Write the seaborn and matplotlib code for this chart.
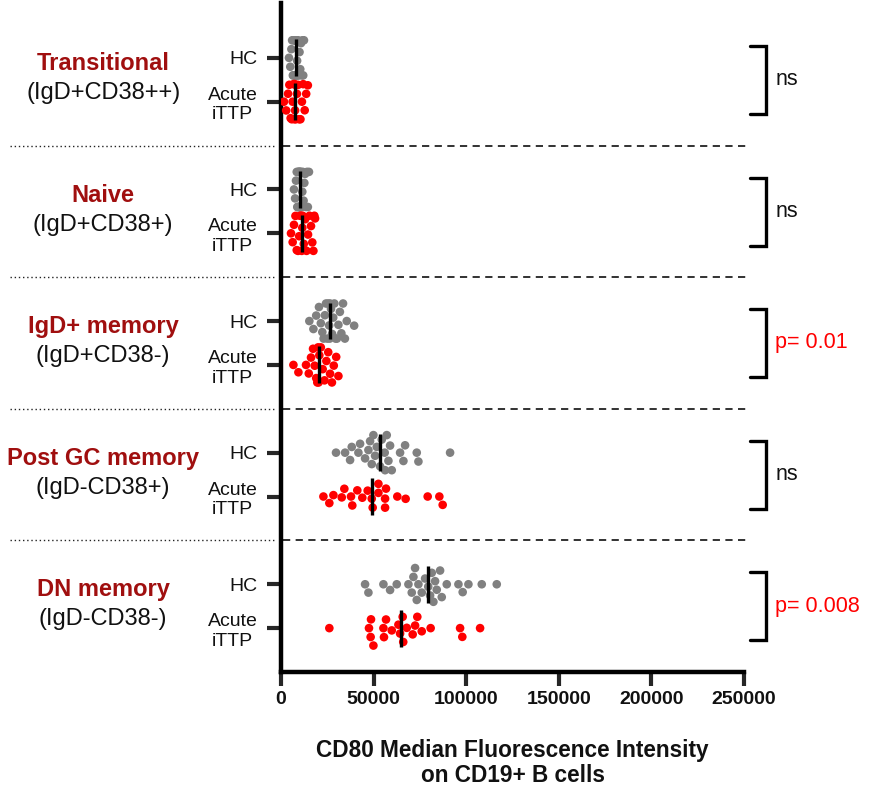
import numpy as np
import pandas as pd
import matplotlib
matplotlib.use("Agg")
import matplotlib.pyplot as plt
import matplotlib.transforms as mtransforms
import seaborn as sns

# ---------------- data ----------------
groups = ["Transitional", "Naive", "IgD+ memory", "Post GC memory", "DN memory"]
subtitles = ["(IgD+CD38++)", "(IgD+CD38+)", "(IgD+CD38-)", "(IgD-CD38+)", "(IgD-CD38-)"]
statuses = ["HC", "Acute"]
tick_labels = ["HC", "Acute\niTTP"]
stats_text = ["ns", "ns", "p= 0.01", "ns", "p= 0.008"]
stats_red = [False, False, True, False, True]

trans_hc = [4300, 5000, 5600, 6000, 6400, 6700, 7000, 7200, 7500, 7700, 7900, 8000, 8100, 8100,
            8300, 8500, 8700, 9000, 9300, 9600, 10000, 10400, 10800, 11200, 11600, 12000, 12400]
trans_ac = [1600, 2800, 3800, 4500, 5200, 5800, 6300, 6800, 7100, 7300, 7400, 7600, 8000, 8600,
            9200, 9800, 10500, 11300, 12000, 12800, 13600, 14500]
naive_hc = [7000, 7600, 8100, 8500, 8800, 9000, 9200, 9400, 9600, 9800, 9900, 10000, 10100, 10300,
            10500, 10700, 10900, 11200, 11500, 11800, 12200, 12600, 13000, 13500, 14000, 14500, 15100]
naive_ac = [5400, 6300, 7000, 7800, 8500, 9200, 9800, 10300, 10800, 11200, 11500, 11700, 12300,
            13000, 13800, 14600, 15400, 16200, 16900, 17500, 18000, 18400]
igd_hc = [15300, 17500, 19000, 20500, 21500, 22300, 23000, 23700, 24300, 25000, 25500, 26000, 26300,
          26500, 27000, 27600, 28200, 28800, 29500, 30200, 31000, 31800, 32600, 33500, 34500, 35500, 39500]
igd_ac = [6700, 9400, 13500, 15000, 16200, 17300, 18200, 19000, 19600, 20000, 20300, 20700, 21500,
          22500, 23500, 24500, 25500, 26500, 27500, 28500, 29800, 31000]
post_hc = [29700, 34600, 37300, 38200, 41800, 42700, 45400, 47200, 48100, 49000, 49900, 50800, 51700,
           53500, 54400, 56000, 56200, 57100, 58000, 58900, 59800, 64300, 66100, 67000, 73300, 74200, 91300]
post_ac = [22900, 26100, 28300, 32800, 34200, 37800, 38500, 41200, 43900, 46800, 49000, 49500, 52600,
           52600, 56200, 56200, 56700, 62800, 67300, 79200, 85500, 87300]
dn_hc = [45400, 47200, 55300, 58900, 62500, 68800, 70600, 71500, 72400, 73300, 74200, 76000, 77800,
         79500, 81400, 82300, 83200, 84100, 85900, 86800, 89500, 95800, 98100, 101200, 108400, 116500, 80500]
dn_ac = [26100, 47500, 48400, 48600, 49900, 55300, 55600, 56700, 59800, 63400, 64300, 65700, 66000,
         67900, 71100, 72400, 73600, 76000, 80800, 96700, 97900, 107500]

x_ticks = [0, 50000, 100000, 150000, 200000, 250000]
x_label = "CD80 Median Fluorescence Intensity\non CD19+ B cells"

series = [(trans_hc, trans_ac), (naive_hc, naive_ac), (igd_hc, igd_ac),
          (post_hc, post_ac), (dn_hc, dn_ac)]

rows = []
for gi, (hc, ac) in enumerate(series):
    for si, vals in enumerate((hc, ac)):
        for v in vals:
            rows.append({"value": v, "pos": 3 * gi + si, "status": statuses[si], "group": groups[gi]})
df = pd.DataFrame(rows)

# ---------------- style ----------------
sns.set_theme(style="white")
plt.rcParams["font.family"] = ["Liberation Sans", "DejaVu Sans"]

GRAY = "#808080"
RED = "#ff0000"
DARKRED = "#a00f0f"

fig = plt.figure(figsize=(8.75, 7.94), dpi=100)
ax = fig.add_axes([281 / 875, 1 - 672 / 794, 463 / 875, (672 - 3) / 794])

sns.swarmplot(data=df, x="value", y="pos", hue="status", orient="h", native_scale=True,
              palette={"HC": GRAY, "Acute": RED}, size=6.2, linewidth=0, legend=False,
              warn_thresh=1.0, ax=ax)

# median lines
med = df.groupby("pos")["value"].median()
for p, m in med.items():
    ax.plot([m, m], [p - 0.42, p + 0.42], color="black", lw=2.4, solid_capstyle="butt", zorder=5)

ax.set_xlim(0, 250000)
ax.set_ylim(14.0, -1.25)

positions = [3 * gi + si for gi in range(len(groups)) for si in range(2)]
ax.set_yticks(positions)
ax.set_yticklabels(tick_labels * len(groups), fontsize=14, color="#111111")
for lab in ax.get_yticklabels():
    lab.set_multialignment("center")
ax.set_xticks(x_ticks)
ax.set_xticklabels([str(t) for t in x_ticks], fontsize=14, fontweight="bold", color="#111111")
ax.set_xlabel(x_label, fontsize=16.3, fontweight="bold", labelpad=22, color="#111111",
              linespacing=1.1)
ax.set_ylabel("")

for s in ["top", "right"]:
    ax.spines[s].set_visible(False)
for s in ["left", "bottom"]:
    ax.spines[s].set_linewidth(3.2)
    ax.spines[s].set_color("black")
ax.tick_params(axis="y", direction="out", length=10, width=3, pad=7, left=True)
ax.tick_params(axis="x", direction="out", length=10, width=3, pad=4, bottom=True)

trans = mtransforms.blended_transform_factory(ax.transAxes, ax.transData)

# separators
for gi in range(len(groups) - 1):
    yy = 3 * gi + 2
    ax.plot([-0.585, -0.015], [yy, yy], transform=trans, clip_on=False, color="#222222",
            lw=1.0, ls=(0, (1, 2)))
    ax.plot([0.005, 1.01], [yy, yy], transform=trans, clip_on=False, color="#222222",
            lw=1.3, ls=(0, (4, 3)))

# group labels
for gi in range(len(groups)):
    ax.text(-0.384, 3 * gi + 0.13, groups[gi], transform=trans, ha="center", va="center",
            fontsize=17, fontweight="bold", color=DARKRED)
    ax.text(-0.384, 3 * gi + 0.8, subtitles[gi], transform=trans, ha="center", va="center",
            fontsize=17, color="#111111")

# brackets and stats
for gi in range(len(groups)):
    top = 3 * gi - 0.27
    bot = 3 * gi + 1.28
    ax.plot([1.012, 1.048, 1.048, 1.012], [top, top, bot, bot], transform=trans,
            clip_on=False, color="black", lw=2.4, solid_joinstyle="miter")
    ax.text(1.068, 3 * gi + 0.5, stats_text[gi], transform=trans, ha="left", va="center",
            fontsize=15.5, color=RED if stats_red[gi] else "#111111")

fig.savefig("out.png", dpi=100)
